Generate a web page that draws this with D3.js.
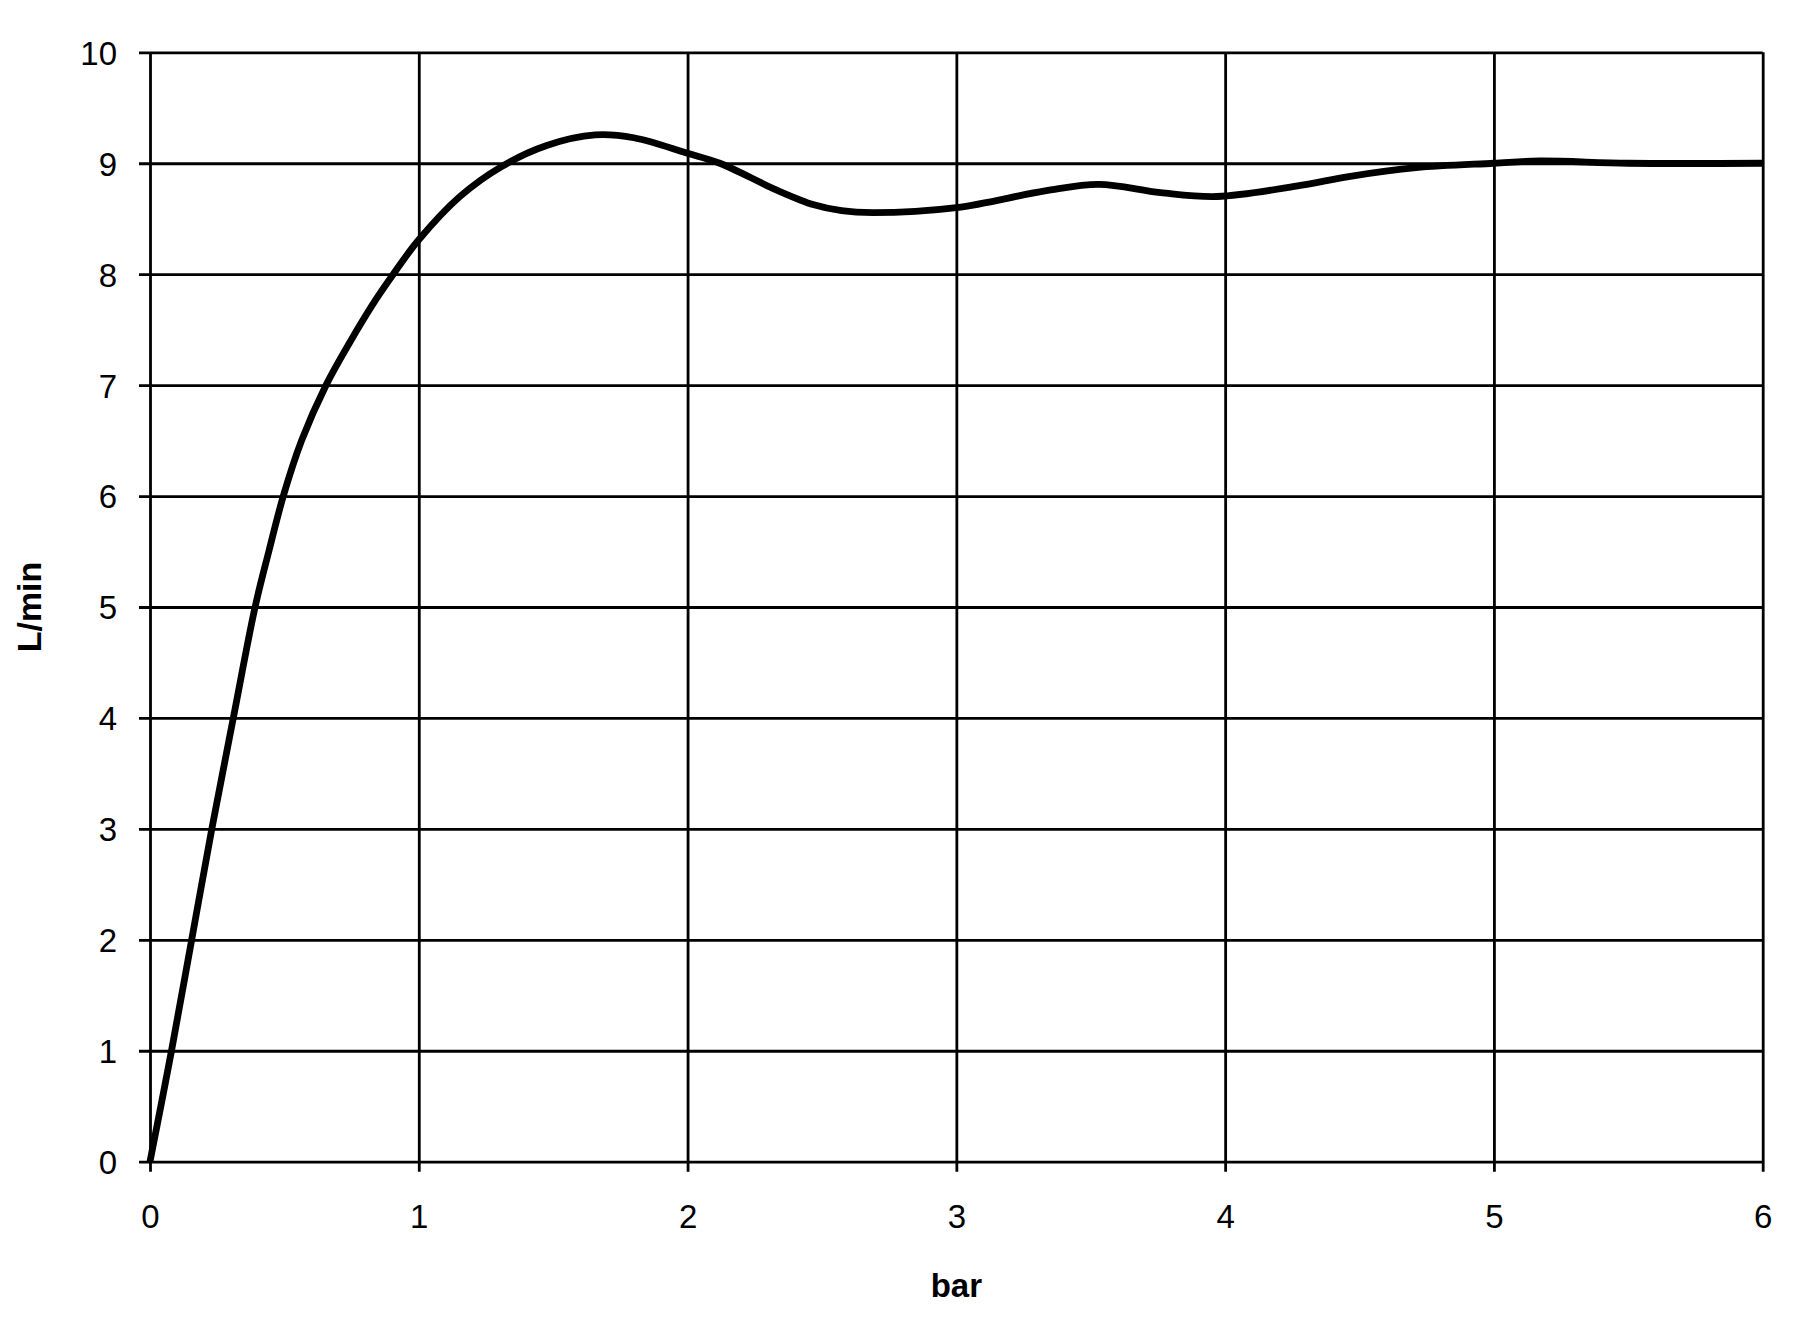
<!DOCTYPE html>
<html>
<head>
<meta charset="utf-8">
<script src="https://cdn.jsdelivr.net/npm/d3@7"></script>
<style>
  html, body { margin: 0; padding: 0; background: #fff; }
  svg { display: block; }
  text { font-family: "Liberation Sans", Arial, sans-serif; fill: #000; }
</style>
</head>
<body>
<svg id="chart" width="1817" height="1333"></svg>
<script>
const pressure = [0, 0.08, 0.155, 0.23, 0.31, 0.391, 0.442, 0.496, 0.564, 0.655, 0.742, 0.84, 0.905, 1.0, 1.153, 1.308, 1.476, 1.656, 1.8, 2.0, 2.12, 2.33, 2.47, 2.573, 2.69, 3.0, 3.33, 3.53, 3.76, 3.97, 4.28, 4.46, 4.71, 5.0, 5.17, 5.5, 6.0];
const flow = [0, 1, 2, 3, 4, 5, 5.5, 6, 6.5, 7, 7.38, 7.77, 8.0, 8.31, 8.7, 8.97, 9.16, 9.255, 9.23, 9.09, 9.0, 8.76, 8.625, 8.572, 8.555, 8.6, 8.75, 8.81, 8.735, 8.70, 8.80, 8.88, 8.96, 9.0, 9.02, 9.0, 9.0];
const xTicks = [0, 1, 2, 3, 4, 5, 6];
const yTicks = [0, 1, 2, 3, 4, 5, 6, 7, 8, 9, 10];
const xTitle = "bar";
const yTitle = "L/min";

(function () {
const svg = d3.select("#chart");
const pLeft = 150, pRight = 1762.7, pTop = 52.3, pBottom = 1161.7;

const x = d3.scaleLinear().domain([0, 6]).range([pLeft, pRight]);
const y = d3.scaleLinear().domain([0, 10]).range([pBottom, pTop]);

// horizontal gridlines + y-axis ticks
const yAxis = d3.axisLeft(y).tickValues(yTicks).tickSize(-(pRight - pLeft)).tickFormat(d3.format("d"));
const gy = svg.append("g").attr("transform", `translate(${pLeft},0)`).call(yAxis);
gy.select(".domain").remove();
gy.selectAll(".tick line").attr("stroke", "#000").attr("stroke-width", 2.8).attr("x1", -11);
gy.selectAll(".tick text").attr("font-size", 33).attr("dy", "0.36em").attr("x", -33);

// vertical gridlines + x-axis ticks
const xAxis = d3.axisBottom(x).tickValues(xTicks).tickSize(-(pBottom - pTop)).tickFormat(d3.format("d"));
const gx = svg.append("g").attr("transform", `translate(0,${pBottom})`).call(xAxis);
gx.select(".domain").remove();
gx.selectAll(".tick line").attr("stroke", "#000").attr("stroke-width", 2.8).attr("y1", 10);
gx.selectAll(".tick text").attr("font-size", 33).attr("dy", null).attr("y", 66);

// curve
const data = pressure.map((p, i) => [p, flow[i]]);
const line = d3.line().x(d => x(d[0])).y(d => y(d[1])).curve(d3.curveCatmullRom.alpha(0.5));
svg.append("path").datum(data)
  .attr("d", line)
  .attr("fill", "none")
  .attr("stroke", "#000")
  .attr("stroke-width", 6.8)
  .attr("stroke-linejoin", "round");

// axis titles
svg.append("text").attr("x", (pLeft + pRight) / 2).attr("y", 1297)
  .attr("text-anchor", "middle").attr("font-size", 33).attr("font-weight", "bold").text(xTitle);
svg.append("text").attr("transform", "translate(41,607) rotate(-90)")
  .attr("text-anchor", "middle").attr("font-size", 34).attr("font-weight", "bold").text(yTitle);
})();
</script>
</body>
</html>
